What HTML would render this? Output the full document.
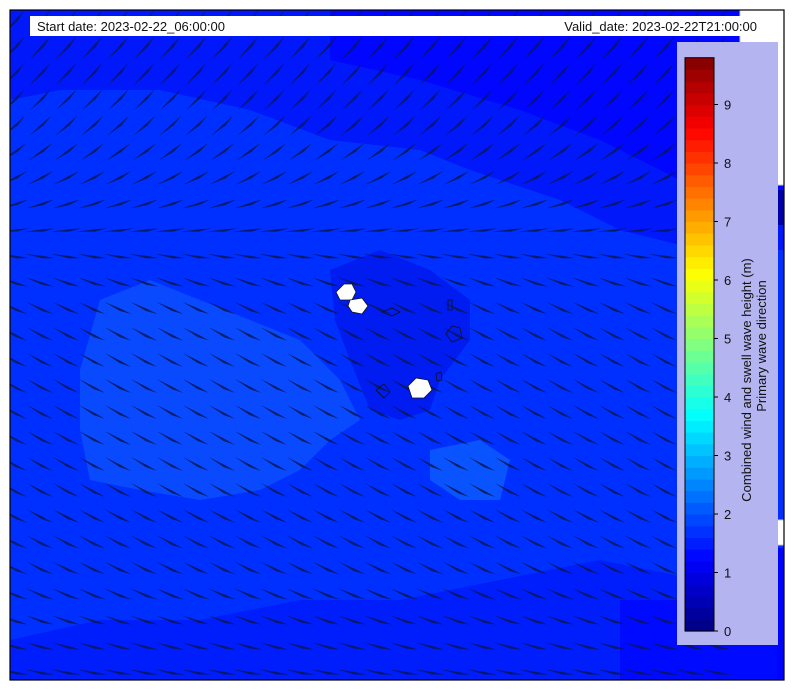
<!DOCTYPE html>
<html><head><meta charset="utf-8"><style>
body{margin:0;background:#fff;width:794px;height:690px;overflow:hidden;font-family:"Liberation Sans","DejaVu Sans",sans-serif}
svg{display:block}
</style></head><body>
<svg id="chart" width="794" height="690" viewBox="0 0 794 690" xmlns="http://www.w3.org/2000/svg">
<defs><clipPath id="mapclip"><rect x="10" y="10" width="774" height="670"/></clipPath></defs>
<g clip-path="url(#mapclip)">
<rect x="10" y="10" width="774" height="670" fill="#0030ff"/>
<polygon fill="#0018fa" points="10,10 784,10 784,250 700,250 620,230 560,200 470,170 420,150 330,140 250,110 160,90 60,90 10,100"/>
<polygon fill="#0006ff" points="330,10 784,10 784,190 680,180 600,140 520,110 420,80 330,60"/>
<polygon fill="#001cf0" points="330,270 380,250 430,270 470,300 470,340 440,380 430,410 400,420 370,410 350,360 335,320"/>
<polygon fill="#0a4aff" points="100,300 150,280 200,300 250,320 300,340 340,380 360,420 330,440 300,470 260,490 200,500 140,490 90,480 80,430 80,370"/>
<polygon fill="#0a54ff" points="430,450 480,440 510,460 500,500 460,500 430,480"/>
<polygon fill="#001efc" points="10,640 100,620 200,620 300,600 400,600 500,580 600,560 700,580 784,560 784,680 10,680"/>
<polygon fill="#000aff" points="620,600 700,600 784,590 784,680 620,680"/>
<g id="arrows"></g>
<polygon fill="#ffffff" stroke="#c8c8c8" stroke-width="1" points="728,10 784,10 784,185 776,185 776,230 760,230 760,520 784,520 784,545 740,545 740,10"/>
<rect x="777" y="190" width="7" height="35" fill="#0000a8"/>
<rect x="777" y="548" width="7" height="132" fill="#0004ff"/>
<g fill="#fff" stroke="#111" stroke-width="0.8">
<polygon points="336,292 344,284 352,284 356,292 352,300 340,300"/>
<polygon points="350,300 362,298 368,306 362,314 352,312 348,306"/>
<polygon points="408,386 416,378 428,380 432,390 424,398 412,398"/>
<polygon points="446,334 452,326 460,328 462,338 452,342" fill="none"/>
<polygon points="376,390 384,384 390,392 384,398" fill="none"/>
<polygon points="436,374 441,372 442,380 437,381" fill="none"/>
<polygon points="448,300 452,300 452,310 448,310" fill="none"/>
<polygon points="382,312 392,308 400,312 392,316" fill="none"/>
</g>
<rect x="677" y="42" width="101" height="603" fill="#b4b4f0"/>
<rect x="30" y="16" width="754" height="20" fill="#ffffff"/>
<text x="37" y="31" font-size="13" fill="#111">Start date: 2023-02-22_06:00:00</text>
<text x="757" y="31" font-size="13" fill="#111" text-anchor="end">Valid_date: 2023-02-22T21:00:00</text>
</g>
<rect x="10" y="10" width="774" height="670" fill="none" stroke="#000" stroke-width="1.2"/>
<g id="cbar"></g>
<text transform="translate(751,380) rotate(-90)" font-size="13" fill="#111" text-anchor="middle">Combined wind and swell wave height (m)</text>
<text transform="translate(766,346) rotate(-90)" font-size="13" fill="#111" text-anchor="middle">Primary wave direction</text>
</svg>
<script>
// Arrow direction (degrees, clockwise from east) per row of the quiver grid
const rowY = [22,48,74,100,126,152,178,204,230,256,282,308,334,360,386,412,438,464,490,516,542,568,594,620,646,672];
const rowAngle = [-48,-48,-47,-45,-42,-36,-28,-18,-6,8,18,24,27,28,28,28,28,28,28,27,26,25,22,18,14,10];
const colX = [14,40,66,92,118,144,170,196,222,248,274,300,326,352,378,404,430,456,482,508,534,560,586,612,638,664,690,716];
// Colorbar levels (m) and ticks
const levels = [];
for (let i = 0; i < 49; i++) levels.push(+(i * 0.2).toFixed(1));
const ticks = [0,1,2,3,4,5,6,7,8,9];

const NS = "http://www.w3.org/2000/svg";
const arrows = document.getElementById('arrows');
rowY.forEach((y, r) => {
  colX.forEach((x, c) => {
    const a = rowAngle[r] * Math.PI / 180;
    const L = 30, dx = Math.cos(a) * L / 2, dy = Math.sin(a) * L / 2;
    const nx = -Math.sin(a) * 2, ny = Math.cos(a) * 2;
    const p = document.createElementNS(NS, 'polygon');
    const x0 = x - dx, y0 = y - dy, x1 = x + dx, y1 = y + dy;
    const mx = x + dx * 0.2, my = y + dy * 0.2;
    p.setAttribute('points', `${x0},${y0} ${mx+nx},${my+ny} ${x1},${y1} ${mx-nx*0.25},${my-ny*0.25}`);
    p.setAttribute('fill', '#0a1650');
    p.setAttribute('fill-opacity', '0.85');
    
    
    arrows.appendChild(p);
  });
});

function jet(t){
  const r = Math.min(Math.max(Math.min(4*t-1.5, -4*t+4.5),0),1);
  const g = Math.min(Math.max(Math.min(4*t-0.5, -4*t+3.5),0),1);
  const b = Math.min(Math.max(Math.min(4*t+0.5, -4*t+2.5),0),1);
  return `rgb(${Math.round(r*255)},${Math.round(g*255)},${Math.round(b*255)})`;
}
const cb = document.getElementById('cbar');
const cbX = 685, cbW = 29, cbY0 = 631, pxPerM = 58.5;
const yOf = v => cbY0 - v * pxPerM;
levels.forEach((v, i) => {
  const rct = document.createElementNS(NS, 'rect');
  rct.setAttribute('x', cbX);
  rct.setAttribute('y', yOf(v + 0.2));
  rct.setAttribute('width', cbW);
  rct.setAttribute('height', 0.2 * pxPerM + 0.6);
  rct.setAttribute('fill', jet((i + 0.5) / levels.length));
  
  
  cb.appendChild(rct);
});
const cbTop = levels[levels.length - 1] + 0.2;
const fr = document.createElementNS(NS, 'rect');
fr.setAttribute('x', cbX); fr.setAttribute('y', yOf(cbTop));
fr.setAttribute('width', cbW); fr.setAttribute('height', cbTop * pxPerM);
fr.setAttribute('fill', 'none'); fr.setAttribute('stroke', '#000');


cb.appendChild(fr);
ticks.forEach(t => {
  const ln = document.createElementNS(NS, 'line');
  ln.setAttribute('x1', cbX + cbW); ln.setAttribute('x2', cbX + cbW + 4);
  ln.setAttribute('y1', yOf(t)); ln.setAttribute('y2', yOf(t));
  ln.setAttribute('stroke', '#000');
  
  
  cb.appendChild(ln);
  const tx = document.createElementNS(NS, 'text');
  tx.setAttribute('x', cbX + cbW + 10); tx.setAttribute('y', yOf(t) + 5);
  tx.setAttribute('font-size', '13'); tx.setAttribute('fill', '#111');
  tx.textContent = t;
  
  
  cb.appendChild(tx);
});
</script>
</body></html>
